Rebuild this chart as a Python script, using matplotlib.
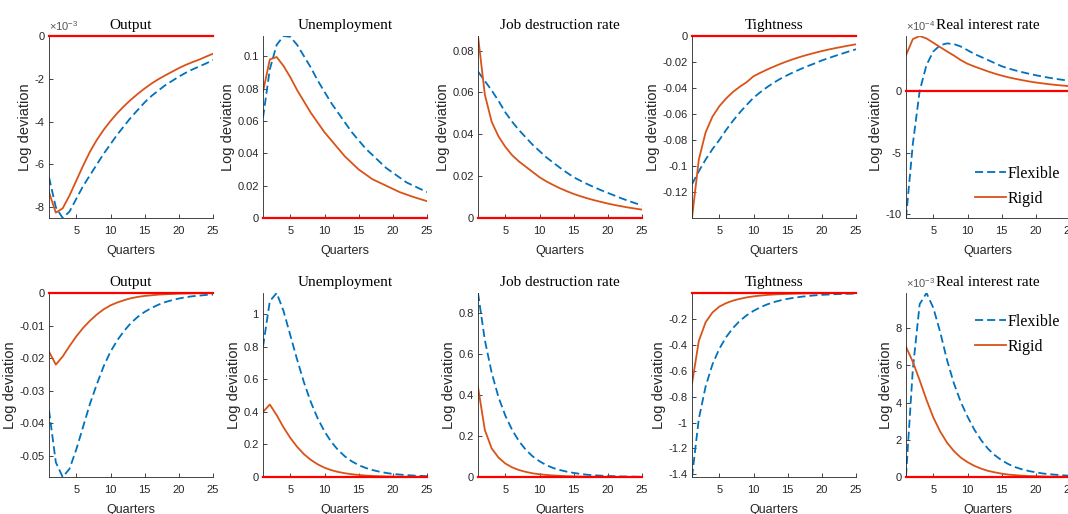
import numpy as np
import matplotlib
matplotlib.use("Agg")
import matplotlib.pyplot as plt
from matplotlib.ticker import FuncFormatter

plt.rcParams['font.family'] = ['Liberation Sans Narrow', 'Liberation Sans', 'DejaVu Sans']
plt.rcParams['axes.unicode_minus'] = False
plt.rcParams['mathtext.fontset'] = 'custom'
plt.rcParams['mathtext.rm'] = 'Liberation Sans'

quarters = np.arange(1, 26)

# top row
output_flex_1 = np.array([-6.6, -8.0, -8.5, -8.2, -7.6, -7.0, -6.5, -6.0, -5.5, -5.05, -4.6, -4.2, -3.8,
                          -3.45, -3.1, -2.8, -2.55, -2.3, -2.1, -1.9, -1.72, -1.56, -1.42, -1.28, -1.12]) * 1e-3
output_rigid_1 = np.array([-7.3, -8.25, -8.05, -7.45, -6.75, -6.05, -5.4, -4.85, -4.38, -3.97, -3.6, -3.27, -2.97,
                           -2.7, -2.45, -2.22, -2.02, -1.84, -1.67, -1.5, -1.35, -1.22, -1.1, -0.96, -0.83]) * 1e-3
unemp_flex_1 = [.062, .092, .107, .1125, .112, .107, .100, .093, .085, .078, .071, .065, .059,
                .053, .048, .043, .039, .035, .031, .028, .025, .022, .020, .018, .016]
unemp_rigid_1 = [.078, .098, .0995, .094, .087, .079, .072, .065, .059, .053, .048, .043, .038,
                 .034, .030, .027, .024, .022, .020, .018, .016, .0145, .013, .0117, .0104]
jd_flex_1 = [.070, .0655, .061, .056, .0505, .046, .042, .0385, .035, .032, .029, .0265, .024,
             .0217, .0195, .0178, .0162, .0147, .0133, .012, .0107, .0094, .0082, .0071, .006]
jd_rigid_1 = [.087, .059, .046, .039, .034, .030, .027, .0245, .022, .0195, .0175, .0158, .0142,
              .0128, .0115, .0104, .0094, .0085, .0077, .0069, .0062, .0056, .005, .0045, .0040]
tight_flex_1 = [-.114, -.104, -.095, -.087, -.080, -.0722, -.0652, -.0588, -.0530, -.0475, -.0432, -.0393, -.0358,
                -.0327, -.030, -.0275, -.0252, -.023, -.021, -.0188, -.017, -.0152, -.0135, -.0118, -.0102]
tight_rigid_1 = [-.14, -.095, -.074, -.062, -.054, -.048, -.043, -.039, -.0355, -.031, -.0283, -.0258, -.0235,
                 -.0213, -.0193, -.0175, -.0158, -.0143, -.0129, -.0116, -.0104, -.0093, -.0083, -.0073, -.0064]
rate_flex_1 = np.array([-10.3, -4.3, 0.0, 2.1, 3.2, 3.7, 3.85, 3.8, 3.6, 3.3, 3.0, 2.75, 2.5,
                        2.25, 2.0, 1.82, 1.66, 1.52, 1.39, 1.27, 1.16, 1.06, 0.97, 0.89, 0.8]) * 1e-4
rate_rigid_1 = np.array([2.9, 4.2, 4.45, 4.25, 3.9, 3.55, 3.2, 2.87, 2.5, 2.2, 1.98, 1.78, 1.58,
                         1.4, 1.24, 1.1, 0.98, 0.87, 0.77, 0.68, 0.61, 0.54, 0.48, 0.43, 0.38]) * 1e-4

# bottom row
output_flex_2 = [-.036, -.052, -.0565, -.054, -.048, -.041, -.034, -.028, -.0225, -.018, -.0145, -.0116, -.0092,
                 -.0073, -.0058, -.0046, -.0036, -.0028, -.0022, -.0017, -.0013, -.001, -.0008, -.0006, -.0005]
output_rigid_2 = [-.018, -.022, -.0195, -.0163, -.0133, -.0107, -.0085, -.0066, -.005, -.0038, -.0029, -.0022, -.0016,
                  -.0012, -.0009, -.0007, -.0005, -.0004, -.0003, -.0002, -.00015, -.0001, -.00007, -.00005, -.00003]
unemp_flex_2 = [.80, 1.08, 1.13, 1.02, .87, .72, .58, .46, .36, .28, .215, .165, .126,
                .096, .073, .056, .043, .033, .025, .019, .015, .012, .009, .007, .005]
unemp_rigid_2 = [.40, .445, .38, .305, .24, .185, .14, .105, .078, .057, .042, .031, .023,
                 .017, .0125, .009, .0066, .0049, .0036, .0027, .002, .0015, .0011, .0008, .0006]
jd_flex_2 = [.90, .67, .51, .39, .30, .23, .175, .133, .101, .077, .058, .044, .034,
             .026, .02, .015, .011, .0085, .0065, .005, .0038, .0029, .0022, .0017, .0013]
jd_rigid_2 = [.44, .23, .14, .095, .066, .047, .034, .025, .018, .0135, .01, .0074, .0055,
              .0041, .003, .0022, .0017, .0012, .0009, .0007, .0005, .0004, .0003, .0002, .00015]
tight_flex_2 = [-1.42, -0.97, -0.72, -0.55, -0.43, -0.34, -0.27, -0.215, -0.172, -0.138, -0.11, -0.088, -0.07,
                -0.056, -0.045, -0.036, -0.029, -0.023, -0.018, -0.0145, -0.0115, -0.009, -0.0072, -0.0057, -0.0045]
tight_rigid_2 = [-.70, -.37, -.225, -.15, -.105, -.078, -.059, -.045, -.034, -.026, -.02, -.015, -.0115,
                 -.0088, -.0067, -.0051, -.0039, -.003, -.0023, -.0017, -.0013, -.001, -.0008, -.0006, -.0004]
rate_flex_2 = np.array([0.05, 5.8, 9.3, 9.9, 9.1, 7.8, 6.3, 5.05, 4.05, 3.25, 2.55, 1.98, 1.52,
                        1.17, 0.9, 0.69, 0.53, 0.41, 0.32, 0.25, 0.19, 0.15, 0.12, 0.09, 0.07]) * 1e-3
rate_rigid_2 = np.array([7.0, 6.2, 5.2, 4.15, 3.2, 2.45, 1.85, 1.4, 1.05, 0.8, 0.6, 0.45, 0.33,
                         0.25, 0.18, 0.13, 0.1, 0.07, 0.05, 0.04, 0.03, 0.02, 0.015, 0.01, 0.008]) * 1e-3

titles = ['Output', 'Unemployment', 'Job destruction rate', 'Tightness', 'Real interest rate']

rows = [
    [(output_flex_1, output_rigid_1, [-8e-3, -6e-3, -4e-3, -2e-3, 0], -3),
     (unemp_flex_1, unemp_rigid_1, [0, .02, .04, .06, .08, .1], 0),
     (jd_flex_1, jd_rigid_1, [0, .02, .04, .06, .08], 0),
     (tight_flex_1, tight_rigid_1, [-.12, -.1, -.08, -.06, -.04, -.02, 0], 0),
     (rate_flex_1, rate_rigid_1, [-10e-4, -5e-4, 0], -4)],
    [(output_flex_2, output_rigid_2, [-.05, -.04, -.03, -.02, -.01, 0], 0),
     (unemp_flex_2, unemp_rigid_2, [0, .2, .4, .6, .8, 1], 0),
     (jd_flex_2, jd_rigid_2, [0, .2, .4, .6, .8], 0),
     (tight_flex_2, tight_rigid_2, [-1.4, -1.2, -1, -.8, -.6, -.4, -.2], 0),
     (rate_flex_2, rate_rigid_2, [0, 2e-3, 4e-3, 6e-3, 8e-3], -3)],
]

blue = '#0072BD'
orange = '#D95319'
axcol = '#262626'

fig = plt.figure(figsize=(10.68, 5.14), dpi=100)
W, H = 1068, 514
lefts = [49, 263, 478, 692, 906]
row_box = [(36, 218), (293, 477)]

for r, row in enumerate(rows):
    top, bot = row_box[r]
    for c, (flex, rigid, yt, power) in enumerate(row):
        ax = fig.add_axes([lefts[c] / W, 1 - bot / H, 164 / W, (bot - top) / H])
        ax.plot(quarters, flex, color=blue, lw=1.3, ls=(0, (4.5, 2.2)), label='Flexible')
        ax.plot(quarters, rigid, color=orange, lw=1.3, label='Rigid')
        ax.axhline(0, color='red', lw=1.6, clip_on=False, zorder=3)
        ax.set_xlim(1, 25)
        ax.margins(y=0)
        ax.set_xticks([5, 10, 15, 20, 25])
        ax.set_yticks(yt)
        scale = 10.0 ** power
        ax.yaxis.set_major_formatter(FuncFormatter(lambda v, p, s=scale: '%g' % round(v / s, 6)))
        if power != 0:
            ax.text(0.0, 1.015, r'$\times10^{%d}$' % power, transform=ax.transAxes,
                    fontsize=8, color='#555555', ha='left', va='bottom')
        for s in ['top', 'right']:
            ax.spines[s].set_visible(False)
        for s in ['left', 'bottom']:
            ax.spines[s].set_color(axcol)
            ax.spines[s].set_linewidth(0.6)
        ax.tick_params(direction='in', length=3, width=0.6, colors=axcol, labelsize=8)
        ax.tick_params(axis='x', pad=6)
        ax.tick_params(axis='y', pad=3)
        ax.set_title(titles[c], family='Liberation Serif', fontsize=11, pad=5)
        ax.set_xlabel('Quarters', fontsize=9, color=axcol, labelpad=6)
        ax.set_ylabel('Log deviation', fontsize=10.5, color=axcol, labelpad=2)
        if c == 4:
            loc = 'lower right' if r == 0 else 'upper right'
            ax.legend(loc=loc, frameon=False, prop={'family': 'Liberation Serif', 'size': 11.5},
                      handlelength=2.0, handletextpad=0.1, labelspacing=0.55, borderaxespad=0.3,
                      bbox_to_anchor=(1.01, 0.0) if r == 0 else (1.01, 0.948))

fig.savefig('out.png', dpi=100)
